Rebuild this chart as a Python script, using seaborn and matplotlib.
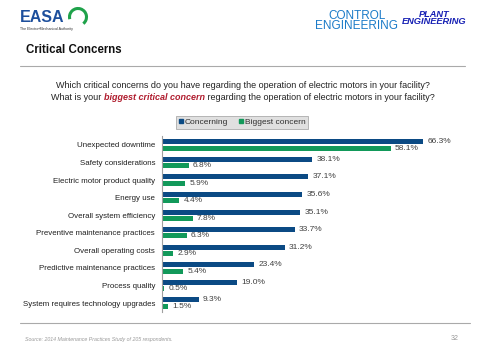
import matplotlib
matplotlib.use("Agg")
import matplotlib.pyplot as plt
import seaborn as sns
import pandas as pd
from matplotlib.lines import Line2D
from matplotlib.patches import Arc

categories = ["Unexpected downtime", "Safety considerations", "Electric motor product quality",
              "Energy use", "Overall system efficiency", "Preventive maintenance practices",
              "Overall operating costs", "Predictive maintenance practices", "Process quality",
              "System requires technology upgrades"]
concerning = [66.3, 38.1, 37.1, 35.6, 35.1, 33.7, 31.2, 23.4, 19.0, 9.3]
biggest = [58.1, 6.8, 5.9, 4.4, 7.8, 6.3, 2.9, 5.4, 0.5, 1.5]
series_names = ["Concerning", "Biggest concern"]

df = pd.DataFrame({
    "category": categories * 2,
    "value": concerning + biggest,
    "series": [series_names[0]] * len(categories) + [series_names[1]] * len(categories),
})

sns.set_theme(style="white")
plt.rcParams["font.family"] = ["Liberation Sans", "DejaVu Sans"]

fig = plt.figure(figsize=(4.85, 3.5), dpi=100)
fig.patch.set_facecolor("white")
ax = fig.add_axes([162 / 485, 1 - 311.8 / 350, (477 - 162) / 485, 175.6 / 350])

palette = {"Concerning": "#0b4a84", "Biggest concern": "#12995a"}
sns.barplot(data=df, y="category", x="value", hue="series", orient="h",
            palette=palette, width=0.72, gap=0.22, ax=ax, legend=False,
            saturation=1, errorbar=None, linewidth=0)

for cont in ax.containers:
    ax.bar_label(cont, fmt="%.1f%%", padding=3, fontsize=6, color="#404040")

ax.set_xlim(0, 80)
ax.set_ylim(9.5, -0.5)
ax.set_xlabel("")
ax.set_ylabel("")
ax.set_xticks([])
ax.tick_params(axis="y", length=0, pad=5, labelsize=5.7, labelcolor="#202020")
for s in ["top", "right", "bottom"]:
    ax.spines[s].set_visible(False)
ax.spines["left"].set_color("#a0a0a0")
ax.spines["left"].set_linewidth(0.8)
ax.set_facecolor("none")

# legend
handles = [Line2D([0], [0], marker="s", linestyle="", markersize=3.2,
                  markerfacecolor=palette[n], markeredgecolor=palette[n]) for n in series_names]
leg = fig.legend(handles, series_names, loc="center", bbox_to_anchor=(242 / 485, 1 - 122.5 / 350),
                 ncol=2, fontsize=6, frameon=True, fancybox=False, handlelength=0.6,
                 handletextpad=0.2, columnspacing=1.2, borderpad=0.3)
leg.get_frame().set_facecolor("#d9d9d9")
leg.get_frame().set_edgecolor("#9a9a9a")
leg.get_frame().set_linewidth(0.6)
for t in leg.get_texts():
    t.set_color("#303030")

def fx(x):
    return x / 485

def fy(y):
    return 1 - y / 350

# header logos
fig.text(fx(20), fy(18), "EASA", fontsize=11.5, fontweight="bold", color="#1d4f9c",
         va="center", ha="left")
fig.patches.append(Arc((fx(78), fy(17)), 17 / 485, 17 / 350, theta1=-60, theta2=200,
                       transform=fig.transFigure, color="#1fa24a", linewidth=2.2))
fig.text(fx(20), fy(29), "The Electro\u2022Mechanical Authority", fontsize=2.6, color="#333333",
         va="center", ha="left")
fig.text(fx(357), fy(21), "CONTROL\nENGINEERING", fontsize=8.5, color="#1b7bc8",
         va="center", ha="center", linespacing=0.85)
fig.text(fx(434), fy(18), "PLANT\nENGINEERING", fontsize=6.7, color="#1620b4",
         fontweight="bold", fontstyle="italic", va="center", ha="center", linespacing=0.85)

fig.text(fx(26), fy(50), "Critical Concerns", fontsize=8.3, fontweight="bold", color="#111111",
         va="center", ha="left")
fig.add_artist(Line2D([fx(20), fx(465)], [fy(66), fy(66)], color="#aaaaaa", linewidth=0.8))

fig.text(fx(243), fy(86), "Which critical concerns do you have regarding the operation of electric motors in your facility?",
         fontsize=6.5, color="#222222", ha="center", va="center")
# second line with red bold italic segment
line2_parts = [("What is your ", "#222222", "normal", "normal"),
               ("biggest critical concern", "#b01c2e", "bold", "italic"),
               (" regarding the operation of electric motors in your facility?", "#222222", "normal", "normal")]
fig.canvas.draw()
renderer = fig.canvas.get_renderer()
texts = []
widths = []
for s, c, w, st in line2_parts:
    t = fig.text(0, fy(98), s, fontsize=6.5, color=c, fontweight=w, fontstyle=st,
                 ha="left", va="center")
    bb = t.get_window_extent(renderer=renderer)
    texts.append(t)
    widths.append(bb.width)
total = sum(widths)
start = 243 - total / 2
for t, w in zip(texts, widths):
    t.set_x(fx(start))
    start += w

fig.add_artist(Line2D([fx(20), fx(470)], [fy(323), fy(323)], color="#aaaaaa", linewidth=0.8))
fig.text(fx(25), fy(339), "Source: 2014 Maintenance Practices Study of 205 respondents.",
         fontsize=3.8, fontstyle="italic", color="#999999", ha="left", va="center")
fig.text(fx(459), fy(339), "32", fontsize=5, color="#999999", ha="right", va="center")

fig.savefig("out.png", dpi=100, facecolor="white")
